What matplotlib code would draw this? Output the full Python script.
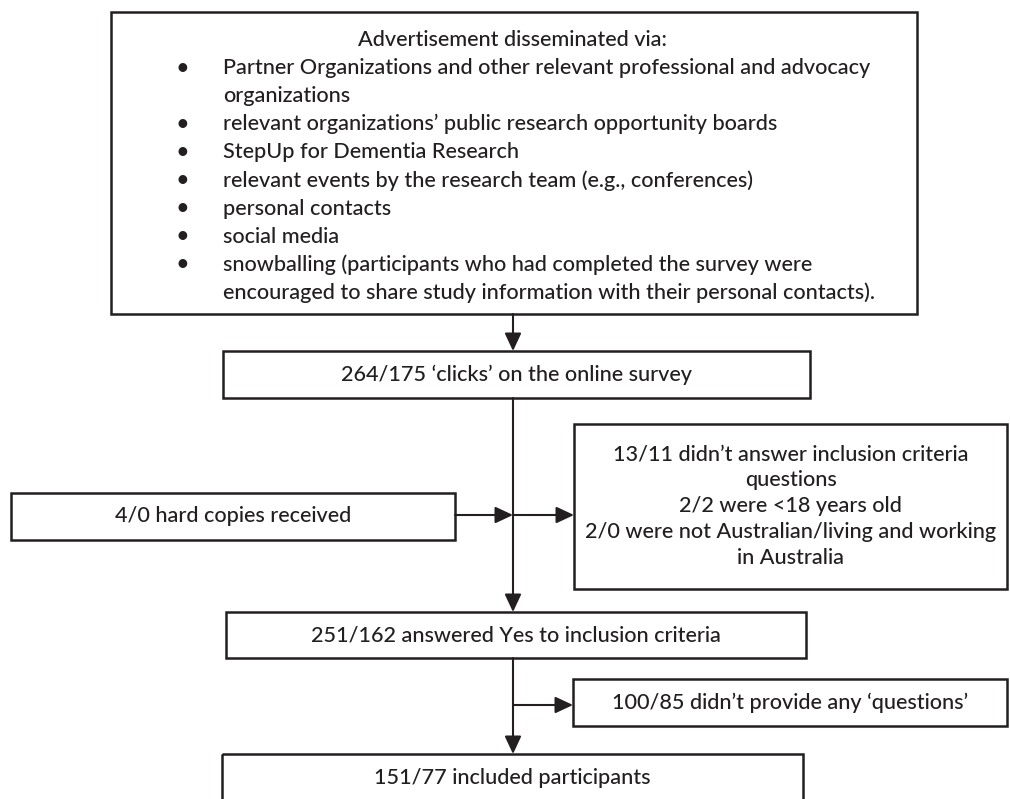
import matplotlib
matplotlib.use("Agg")
import matplotlib.pyplot as plt
from matplotlib.patches import Rectangle

plt.rcParams['font.family'] = ['Lato', 'DejaVu Sans']

ink = '#231f20'

# texts of the flow chart
head = "Advertisement disseminated via:"
channels = [
    ["Partner Organizations and other relevant professional and advocacy",
     "organizations"],
    ["relevant organizations\u2019 public research opportunity boards"],
    ["StepUp for Dementia Research"],
    ["relevant events by the research team (e.g., conferences)"],
    ["personal contacts"],
    ["social media"],
    ["snowballing (participants who had completed the survey were",
     "encouraged to share study information with their personal contacts)."],
]
clicks = "264/175 \u2018clicks\u2019 on the online survey"
hard = "4/0 hard copies received"
excluded1 = ["13/11 didn\u2019t answer inclusion criteria", "questions",
             "2/2 were <18 years old",
             "2/0 were not Australian/living and working", "in Australia"]
answered = "251/162 answered Yes to inclusion criteria"
excluded2 = "100/85 didn\u2019t provide any \u2018questions\u2019"
included = "151/77 included participants"

# layout in pixels (x0, y0, x1, y1), y downwards
boxes = {
    'top': (111, 12, 917, 314),
    'clicks': (223, 351, 810, 398),
    'hard': (11, 493, 455, 540),
    'ex1': (574, 424, 1007, 589),
    'answered': (226, 612, 806, 658),
    'ex2': (573, 679, 1007, 726),
    'included': (222, 754, 803, 830),
}
xc = 513
fs = 15.6

fig = plt.figure(figsize=(10.1, 7.99), dpi=100)
ax = fig.add_axes([0, 0, 1, 1])
ax.set_xlim(0, 1010)
ax.set_ylim(799, 0)
ax.axis('off')

for k, (x0, y0, x1, y1) in boxes.items():
    ax.add_patch(Rectangle((x0, y0), x1 - x0, y1 - y0, fill=False,
                           ec=ink, lw=1.8, zorder=2))

def arrow(x0, y0, x1, y1):
    ax.annotate('', xy=(x1, y1), xytext=(x0, y0),
                arrowprops=dict(arrowstyle='-|>,head_length=0.9,head_width=0.42',
                                color=ink, lw=1.5, shrinkA=0, shrinkB=0,
                                mutation_scale=12))

def label(x, y, txt, ha='center'):
    ax.text(x, y, txt, fontsize=fs, color=ink, ha=ha, va='center',
            fontweight=500)

# top box
step = 28.1
label(512, 40, head)
row = 1
for item in channels:
    ax.text(182, 40 + step * row, '\u2022', fontsize=17, color=ink,
            ha='center', va='center')
    for line in item:
        label(223, 40 + step * row, line, ha='left')
        row += 1

def centre(key, txt):
    x0, y0, x1, y1 = boxes[key]
    label((x0 + x1) / 2, (y0 + y1) / 2, txt)

centre('clicks', clicks)
centre('hard', hard)
centre('answered', answered)
centre('ex2', excluded2)
x0, y0, x1, y1 = boxes['ex1']
for i, line in enumerate(excluded1):
    label((x0 + x1) / 2, (y0 + y1) / 2 + (i - 2) * 26, line)
label(512, 778, included)

# arrows
arrow(xc, 314, xc, 351)
arrow(xc, 398, xc, 612)
arrow(455, 515, xc, 515)
arrow(xc, 515, 574, 515)
arrow(xc, 658, xc, 754)
arrow(xc, 705, 573, 705)

fig.savefig('out.png', dpi=100)
